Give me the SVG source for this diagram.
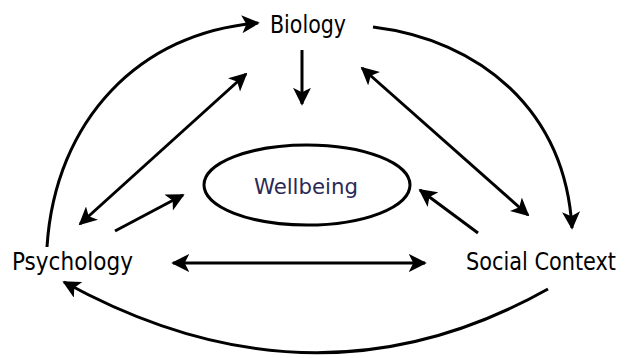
<svg xmlns="http://www.w3.org/2000/svg" width="629" height="358" viewBox="0 0 629 358">
<defs>
<marker id="ah" viewBox="0 0 10 10" refX="9" refY="5" markerWidth="6" markerHeight="6" orient="auto-start-reverse" markerUnits="strokeWidth">
<path d="M0,0 L10,5 L0,10 L2.5,5 Z" fill="#000"/>
</marker>
<style>
.lbl{font-family:"DejaVu Sans Condensed","Liberation Sans",sans-serif;font-size:25px;fill:#000}
.c{fill:none;stroke:#000;stroke-width:3}
</style>
</defs>
<rect width="629" height="358" fill="#fff"/>
<g id="connectors">
<path class="c" d="M302,50 L302,104" marker-end="url(#ah)"/>
<path class="c" d="M80,224 L246,74" marker-start="url(#ah)" marker-end="url(#ah)"/>
<path class="c" d="M362,68 L528,215" marker-start="url(#ah)" marker-end="url(#ah)"/>
<path class="c" d="M115,231 L183,195" marker-end="url(#ah)"/>
<path class="c" d="M478,233 L420,190" marker-end="url(#ah)"/>
<path class="c" d="M173,263 L425,263" marker-start="url(#ah)" marker-end="url(#ah)"/>
<path class="c" d="M47,247 C55,120 140,32 258,23" marker-end="url(#ah)"/>
<path class="c" d="M373,27 C480,40 565,110 572,228" marker-end="url(#ah)"/>
<path class="c" d="M548,289 Q315,420 64,282" marker-end="url(#ah)"/>
</g>
<g id="biology"><text class="lbl" x="270" y="33" textLength="76" lengthAdjust="spacingAndGlyphs">Biology</text></g>
<g id="wellbeing">
<ellipse cx="307" cy="185" rx="103" ry="40" fill="#fff" stroke="#000" stroke-width="3"/>
<text x="306" y="194" text-anchor="middle" font-family="DejaVu Sans Condensed, Liberation Sans, sans-serif" font-size="22" fill="#2a2a55" textLength="104" lengthAdjust="spacingAndGlyphs">Wellbeing</text>
</g>
<g id="psychology"><text class="lbl" x="12" y="270" textLength="121" lengthAdjust="spacingAndGlyphs">Psychology</text></g>
<g id="social"><text class="lbl" x="466" y="270" textLength="150" lengthAdjust="spacingAndGlyphs">Social Context</text></g>
</svg>
